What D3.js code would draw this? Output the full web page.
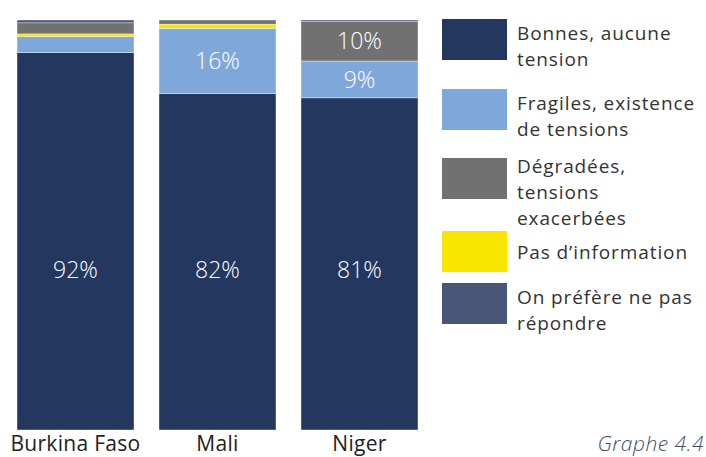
<!DOCTYPE html>
<html>
<head>
<meta charset="utf-8">
<script src="https://cdn.jsdelivr.net/npm/d3@7"></script>
<style>
  body { margin: 0; background: #fff; }
  svg { display: block; font-family: "Open Sans", "Noto Sans", sans-serif; }
</style>
</head>
<body>
<svg class="chart"></svg>
<script>
const countries = ['Burkina Faso', 'Mali', 'Niger']
const seriesNames = [
  'Bonnes, aucune tension',
  'Fragiles, existence de tensions',
  'Dégradées, tensions exacerbées',
  "Pas d’information",
  'On préfère ne pas répondre'
]
const legendLines = [
  ['Bonnes, aucune', 'tension'],
  ['Fragiles, existence', 'de tensions'],
  ['Dégradées,', 'tensions', 'exacerbées'],
  ["Pas d’information"],
  ['On préfère ne pas', 'répondre']
]
const colors = ['#24375e', '#7fa8da', '#717171', '#f9e500', '#4a5677']
// bottom-to-top order of the segments in the bars
const stackOrder = [0, 1, 3, 2, 4]

// one array per series, in country order
const bonnes = [92, 82, 81]
const fragiles = [4, 16, 9]
const degradees = [2.7, 1, 9.6]
const pasInfo = [0.6, 1, 0]
const nePasRepondre = [0.7, 0, 0.4]
const seriesValues = [bonnes, fragiles, degradees, pasInfo, nePasRepondre]

const width = 706
const height = 457

const svg = d3.select('svg.chart').attr('width', width).attr('height', height)

const rows = countries.map((c, i) => {
  const row = { country: c }
  seriesNames.forEach((s, j) => { row[s] = seriesValues[j][i] })
  return row
})

const stack = d3.stack().keys(stackOrder.map(i => seriesNames[i]))(rows)

const xScale = d3.scaleBand()
  .domain(countries)
  .range([17, 418])
  .paddingInner(0.176)

const yScale = d3.scaleLinear()
  .domain([0, 100])
  .range([430, 20])

const colorOf = name => colors[seriesNames.indexOf(name)]

// bars
const layers = svg.append('g')
  .selectAll('g')
  .data(stack)
  .enter()
  .append('g')
  .attr('fill', d => colorOf(d.key))

layers.selectAll('rect')
  .data(d => d)
  .enter()
  .append('rect')
  .attr('x', d => xScale(d.data.country))
  .attr('y', d => yScale(d[1]))
  .attr('width', xScale.bandwidth())
  .attr('height', d => yScale(d[0]) - yScale(d[1]))
  .attr('stroke', '#fff')
  .attr('stroke-width', 0.4)

// value labels (only for big enough segments)
const mainLabelY = yScale(d3.min(bonnes) / 2) + 6
layers.each(function (layer, i) {
  d3.select(this).selectAll('text')
    .data(layer.filter(d => d[1] - d[0] >= 5))
    .enter()
    .append('text')
    .attr('x', d => xScale(d.data.country) + xScale.bandwidth() / 2)
    .attr('y', d => i === 0 ? mainLabelY : yScale((d[0] + d[1]) / 2))
    .attr('dy', '0.35em')
    .attr('text-anchor', 'middle')
    .attr('fill', '#fff')
    .style('font-size', '23px')
    .style('font-weight', 300)
    .text(d => Math.round(d[1] - d[0]) + '%')
})

// country labels
svg.append('g')
  .selectAll('text')
  .data(countries)
  .enter()
  .append('text')
  .attr('x', d => xScale(d) + xScale.bandwidth() / 2)
  .attr('y', 451)
  .attr('text-anchor', 'middle')
  .attr('fill', '#222')
  .style('font-size', '21px')
  .style('letter-spacing', '0.3px')
  .text(d => d)

// legend
const legendTop = [19, 89, 158, 231, 283]
const legend = svg.append('g')
  .selectAll('g')
  .data(seriesNames)
  .enter()
  .append('g')
  .attr('transform', (d, i) => `translate(442, ${legendTop[i]})`)

legend.append('rect')
  .attr('width', 65)
  .attr('height', 41)
  .attr('fill', (d, i) => colors[i])

legend.append('text')
  .attr('x', 75)
  .attr('y', (d, i) => {
    const n = legendLines[i].length
    return n === 1 ? 28 : 21 - (n - 2) * 6
  })
  .attr('fill', '#333')
  .style('font-size', '19px')
  .style('letter-spacing', '0.9px')
  .each(function (d, i) {
    d3.select(this).selectAll('tspan')
      .data(legendLines[i])
      .enter()
      .append('tspan')
      .attr('x', 75)
      .attr('dy', (l, k) => k === 0 ? 0 : 26)
      .text(l => l)
  })

// figure reference
svg.append('text')
  .attr('x', 704)
  .attr('y', 451)
  .attr('text-anchor', 'end')
  .attr('fill', '#3d4d6b')
  .style('font-size', '21px')
  .style('font-style', 'italic')
  .style('font-weight', 300)
  .style('letter-spacing', '0.5px')
  .text('Graphe 4.4')
</script>
</body>
</html>
